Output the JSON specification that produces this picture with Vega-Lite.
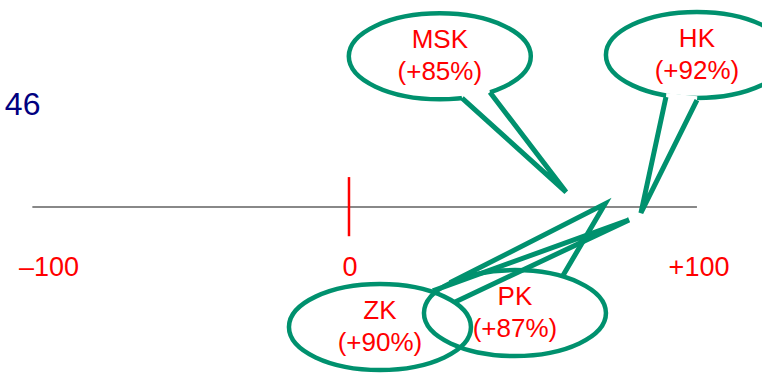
{
  "$schema": "https://vega.github.io/schema/vega-lite/v6.json",
  "width": 762,
  "height": 374,
  "autosize": {"type": "fit", "contains": "padding"},
  "padding": 0,
  "background": "white",
  "config": {"view": {"stroke": null}},
  "datasets": {
    "bubbles": [
      {"name": "MSK", "pct": 85, "cx": 26.1, "cy": 43.3, "label": "MSK\n(+85%)"},
      {"name": "HK", "pct": 92, "cx": 100.0, "cy": 43.7, "label": "HK\n(+92%)"},
      {"name": "ZK", "pct": 90, "cx": 8.9, "cy": -34.5, "label": "ZK\n(+90%)"},
      {"name": "PK", "pct": 87, "cx": 47.7, "cy": -30.5, "label": "PK\n(+87%)"}
    ],
    "tails": [
      {"name": "MSK", "seq": 1, "x": 32.5, "y": 31.3},
      {"name": "MSK", "seq": 2, "x": 62.4, "y": 4.3},
      {"name": "MSK", "seq": 3, "x": 40.5, "y": 33.0},
      {"name": "HK", "seq": 1, "x": 91.1, "y": 31.6},
      {"name": "HK", "seq": 2, "x": 83.9, "y": -1.7},
      {"name": "HK", "seq": 3, "x": 100.0, "y": 30.7},
      {"name": "ZK", "seq": 1, "x": 24.1, "y": -24.1},
      {"name": "ZK", "seq": 2, "x": 80.5, "y": -3.7},
      {"name": "ZK", "seq": 3, "x": 30.5, "y": -27.3},
      {"name": "PK", "seq": 1, "x": 29.0, "y": -21.8},
      {"name": "PK", "seq": 2, "x": 73.6, "y": 0.9},
      {"name": "PK", "seq": 3, "x": 61.5, "y": -19.7}
    ],
    "axisline": [{"from": -91, "to": 100, "y": 0}],
    "zerotick": [{"x": 0, "lo": -8.4, "hi": 8.6}],
    "labels": [
      {"x": -86.2, "y": -17.5, "text": "–100"},
      {"x": 0.3, "y": -17.5, "text": "0"},
      {"x": 100.6, "y": -17.5, "text": "+100"}
    ],
    "corner": [{"x": -98.9, "y": 29.3, "text": "46"}]
  },
  "layer": [
    {
      "data": {"name": "axisline"},
      "mark": {"type": "rule", "color": "#606060", "strokeWidth": 1.5},
      "encoding": {
        "x": {"field": "from", "type": "quantitative", "scale": {"domain": [-100.3, 118.7], "nice": false, "zero": false}, "axis": null},
        "x2": {"field": "to"},
        "y": {"field": "y", "type": "quantitative", "scale": {"domain": [-48, 59.5], "nice": false, "zero": false}, "axis": null}
      }
    },
    {
      "data": {"name": "zerotick"},
      "mark": {"type": "rule", "color": "#ff0000", "strokeWidth": 2.5},
      "encoding": {
        "x": {"field": "x", "type": "quantitative", "scale": {"domain": [-100.3, 118.7], "nice": false, "zero": false}, "axis": null},
        "y": {"field": "lo", "type": "quantitative", "scale": {"domain": [-48, 59.5], "nice": false, "zero": false}, "axis": null},
        "y2": {"field": "hi"}
      }
    },
    {
      "data": {"name": "labels"},
      "mark": {"type": "text", "font": "Liberation Sans", "fontSize": 27, "color": "#ff0000", "align": "center", "baseline": "middle"},
      "encoding": {
        "x": {"field": "x", "type": "quantitative", "scale": {"domain": [-100.3, 118.7], "nice": false, "zero": false}, "axis": null},
        "y": {"field": "y", "type": "quantitative", "scale": {"domain": [-48, 59.5], "nice": false, "zero": false}, "axis": null},
        "text": {"field": "text"}
      }
    },
    {
      "data": {"name": "corner"},
      "mark": {"type": "text", "font": "Liberation Sans", "fontSize": 32, "color": "#000080", "align": "left", "baseline": "middle"},
      "encoding": {
        "x": {"field": "x", "type": "quantitative", "scale": {"domain": [-100.3, 118.7], "nice": false, "zero": false}, "axis": null},
        "y": {"field": "y", "type": "quantitative", "scale": {"domain": [-48, 59.5], "nice": false, "zero": false}, "axis": null},
        "text": {"field": "text"}
      }
    },
    {
      "data": {"name": "bubbles"},
      "mark": {
        "type": "point",
        "clip": true,
        "filled": false,
        "shape": "M -1 0 C -1 -0.261 -0.552 -0.4725 0 -0.4725 C 0.552 -0.4725 1 -0.261 1 0 C 1 0.261 0.552 0.4725 0 0.4725 C -0.552 0.4725 -1 0.261 -1 0 Z",
        "size": 33124,
        "stroke": "#00916E",
        "strokeWidth": 4.5,
        "opacity": 1
      },
      "encoding": {
        "x": {"field": "cx", "type": "quantitative", "scale": {"domain": [-100.3, 118.7], "nice": false, "zero": false}, "axis": null},
        "y": {"field": "cy", "type": "quantitative", "scale": {"domain": [-48, 59.5], "nice": false, "zero": false}, "axis": null}
      }
    },
    {
      "data": {"name": "tails"},
      "transform": [{"filter": "datum.seq != 2 && (datum.name == 'MSK' || datum.name == 'HK')"}],
      "mark": {"type": "line", "clip": true, "color": "white", "strokeWidth": 8, "strokeCap": "butt"},
      "encoding": {
        "x": {"field": "x", "type": "quantitative", "scale": {"domain": [-100.3, 118.7], "nice": false, "zero": false}, "axis": null},
        "y": {"field": "y", "type": "quantitative", "scale": {"domain": [-48, 59.5], "nice": false, "zero": false}, "axis": null},
        "detail": {"field": "name"},
        "order": {"field": "seq"}
      }
    },
    {
      "data": {"name": "tails"},
      "mark": {"type": "line", "clip": true, "color": "#00916E", "strokeWidth": 5, "strokeJoin": "miter", "strokeMiterLimit": 4},
      "encoding": {
        "x": {"field": "x", "type": "quantitative", "scale": {"domain": [-100.3, 118.7], "nice": false, "zero": false}, "axis": null},
        "y": {"field": "y", "type": "quantitative", "scale": {"domain": [-48, 59.5], "nice": false, "zero": false}, "axis": null},
        "detail": {"field": "name"},
        "order": {"field": "seq"}
      }
    },
    {
      "data": {"name": "bubbles"},
      "mark": {"type": "text", "font": "Liberation Sans", "fontSize": 26, "color": "#ff0000", "align": "center", "baseline": "middle", "lineBreak": "\n", "lineHeight": 32, "dy": -16},
      "encoding": {
        "x": {"field": "cx", "type": "quantitative", "scale": {"domain": [-100.3, 118.7], "nice": false, "zero": false}, "axis": null},
        "y": {"field": "cy", "type": "quantitative", "scale": {"domain": [-48, 59.5], "nice": false, "zero": false}, "axis": null},
        "text": {"field": "label"}
      }
    }
  ]
}
